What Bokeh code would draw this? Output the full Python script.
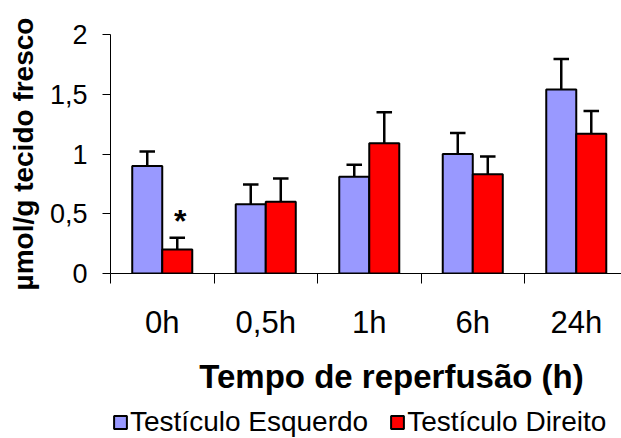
from bokeh.plotting import figure
from bokeh.layouts import column
from bokeh.models import Range1d, FixedTicker, Legend, LegendItem, ColumnDataSource, Label
from bokeh.core.properties import value
from bokeh.embed import file_html
from bokeh.resources import INLINE

categories = ["0h", "0,5h", "1h", "6h", "24h"]
esquerdo = [0.90, 0.58, 0.81, 1.00, 1.54]
esquerdo_err = [0.12, 0.165, 0.10, 0.175, 0.255]
direito = [0.20, 0.60, 1.09, 0.83, 1.17]
direito_err = [0.10, 0.195, 0.26, 0.15, 0.19]
y_ticks = [0, 0.5, 1, 1.5, 2]
y_tick_labels = ["0", "0,5", "1", "1,5", "2"]
signif = ["*", "", "", "", ""]
series_names = ["Testículo Esquerdo", "Testículo Direito"]
x_title = "Tempo de reperfusão (h)"
y_title = "µmol/g tecido fresco"

FONT = "Liberation Sans"
BLUE = "#9999FF"
RED = "#FF0000"
bw = 0.29
cap = 0.075
LEFT = 110

centers = [i + 0.5 for i in range(len(categories))]
xl = [c - bw / 2 for c in centers]
xr = [c + bw / 2 for c in centers]

W = 621
p = figure(width=W, height=345, x_range=Range1d(0, 4.937), y_range=Range1d(0, 2),
           output_backend="svg", toolbar_location=None,
           min_border_left=LEFT, min_border_right=0, min_border_top=34, min_border_bottom=72)
p.grid.visible = False
p.outline_line_color = None

src = ColumnDataSource(dict(
    xl=xl, xr=xr,
    xl0=[x - cap for x in xl], xl1=[x + cap for x in xl],
    xr0=[x - cap for x in xr], xr1=[x + cap for x in xr],
    e=esquerdo, ee=[a + b for a, b in zip(esquerdo, esquerdo_err)],
    d=direito, de=[a + b for a, b in zip(direito, direito_err)], s=signif))

p.vbar(x="xl", top="e", width=bw, bottom=0, source=src, fill_color=BLUE, line_color="black", line_width=2)
p.vbar(x="xr", top="d", width=bw, bottom=0, source=src, fill_color=RED, line_color="black", line_width=2)

for xk, top, et in (("xl", "e", "ee"), ("xr", "d", "de")):
    p.segment(x0=xk, y0=top, x1=xk, y1=et, source=src, line_color="black", line_width=2.5)
    p.segment(x0=xk + "0", y0=et, x1=xk + "1", y1=et, source=src, line_color="black", line_width=2.5)

p.text(x="xr", y="de", text="s", source=src, text_font=value(FONT), text_font_size="32px",
       text_font_style="bold", text_align="center", text_baseline="alphabetic",
       y_offset=-17, x_offset=3, color="black")

# y axis
p.yaxis.ticker = FixedTicker(ticks=y_ticks)
p.yaxis.major_label_overrides = {t: l for t, l in zip(y_ticks, y_tick_labels)}
p.yaxis.major_label_text_font = FONT
p.yaxis.major_label_text_font_size = "27px"
p.yaxis.major_label_text_color = "black"
p.yaxis.major_label_standoff = 15
p.yaxis.major_tick_out = 8
p.yaxis.major_tick_in = 0
p.yaxis.minor_tick_line_color = None
p.yaxis.axis_line_color = "black"
p.yaxis.major_tick_line_color = "black"
p.yaxis.axis_label = y_title
p.yaxis.axis_label_text_font = FONT
p.yaxis.axis_label_text_font_style = "bold"
p.yaxis.axis_label_text_font_size = "28px"
p.yaxis.axis_label_text_color = "black"
p.yaxis.axis_label_standoff = 8

# x axis
p.xaxis.ticker = FixedTicker(ticks=centers, minor_ticks=list(range(len(categories) + 1)))
p.xaxis.major_label_overrides = {c: l for c, l in zip(centers, categories)}
p.xaxis.major_label_text_font = FONT
p.xaxis.major_label_text_font_size = "31px"
p.xaxis.major_label_text_color = "black"
p.xaxis.major_tick_out = 0
p.xaxis.major_tick_in = 0
p.xaxis.minor_tick_out = 10
p.xaxis.minor_tick_in = 0
p.xaxis.minor_tick_line_color = "black"
p.xaxis.major_label_standoff = 21
p.xaxis.axis_line_color = "black"

# bottom strip: x-axis title and legend (frame aligned with the main plot's frame)
q = figure(width=W, height=93, x_range=Range1d(0, W - LEFT), y_range=Range1d(0, 93),
           output_backend="svg", toolbar_location=None,
           min_border_left=LEFT, min_border_right=0, min_border_top=0, min_border_bottom=0)
q.axis.visible = False
q.grid.visible = False
q.outline_line_color = None

q.add_layout(Label(x=391 - LEFT, y=62, x_units="screen", y_units="screen", text=x_title,
                   text_font=FONT, text_font_size="33px", text_font_style="bold",
                   text_align="center", text_baseline="alphabetic", text_color="black"))

# legend-only renderers (no drawable data)
nan = float("nan")
lb = q.vbar(x=[nan], top=[nan], width=1, fill_color=BLUE, line_color="black", line_width=2)
lr = q.vbar(x=[nan], top=[nan], width=1, fill_color=RED, line_color="black", line_width=2)
legend = Legend(items=[LegendItem(label=series_names[0], renderers=[lb]),
                       LegendItem(label=series_names[1], renderers=[lr])],
                orientation="horizontal", location=(112 - LEFT, 0),
                glyph_width=16, glyph_height=16, label_standoff=2, spacing=21,
                padding=0, margin=0, border_line_color=None, background_fill_alpha=0,
                label_text_font=FONT, label_text_font_size="28px", label_text_color="black")
q.add_layout(legend, "center")

open("out.html", "w").write(file_html(column(p, q, spacing=0), INLINE))
